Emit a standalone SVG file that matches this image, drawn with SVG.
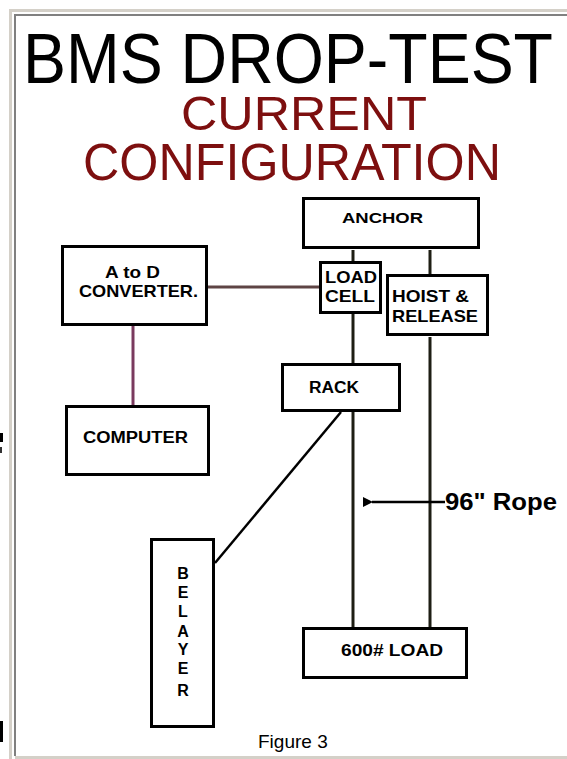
<svg xmlns="http://www.w3.org/2000/svg" width="567" height="759" viewBox="0 0 567 759">
<style>
.box{fill:#fff;stroke:#000;stroke-width:3}
.lbl{font-family:"Liberation Sans",Arial,sans-serif;font-weight:bold;fill:#000}
.wire{stroke:#1e1e14;stroke-width:3;fill:none}
.red{font-family:"Liberation Sans",Arial,sans-serif;fill:#7d0f0f}
</style>
<defs>
<marker id="ah" viewBox="0 0 10 10" refX="1" refY="5" markerWidth="4" markerHeight="4" orient="auto-start-reverse">
<path d="M0,5 L10,0 L10,10 Z" fill="#000"/>
</marker>
</defs>
<rect x="0" y="0" width="567" height="759" fill="#fff"/>
<g id="frame">
<rect x="9" y="9" width="558" height="3" fill="#d4d0c8"/>
<rect x="9" y="9" width="3" height="750" fill="#d4d0c8"/>
<rect x="15" y="756" width="552" height="3" fill="#d4d0c8"/>
<rect x="14" y="14" width="553" height="2" fill="#808080"/>
<rect x="14" y="14" width="2" height="742" fill="#808080"/>
<rect x="0" y="433" width="3" height="9" fill="#000"/>
<rect x="0" y="447" width="2" height="6" fill="#333"/>
<rect x="0" y="721" width="3" height="21" fill="#000"/>
</g>
<g id="title">
<text x="23" y="83" font-family="'Liberation Sans',Arial,sans-serif" font-size="70" textLength="530" lengthAdjust="spacingAndGlyphs" fill="#000">BMS DROP-TEST</text>
<text class="red" x="181" y="130" font-size="49" textLength="246" lengthAdjust="spacingAndGlyphs">CURRENT</text>
<text class="red" x="83" y="180" font-size="51" textLength="418" lengthAdjust="spacingAndGlyphs">CONFIGURATION</text>
</g>
<g id="connectors">
<line class="wire" x1="353" y1="250" x2="353" y2="261"/>
<line class="wire" x1="430" y1="250" x2="430" y2="274"/>
<line class="wire" x1="353" y1="314" x2="353" y2="363"/>
<line class="wire" x1="430" y1="337" x2="430" y2="627"/>
<line class="wire" x1="353" y1="412" x2="353" y2="627"/>
<line x1="341" y1="412" x2="215" y2="563" stroke="#000" stroke-width="2.5"/>
<line x1="208" y1="287" x2="319" y2="287" stroke="#5e4444" stroke-width="3"/>
<line x1="133" y1="326" x2="133" y2="405" stroke="#7a3a5e" stroke-width="3"/>
<line x1="445" y1="502" x2="372" y2="502" stroke="#000" stroke-width="2.5" marker-end="url(#ah)"/>
</g>
<g id="anchor">
<rect class="box" x="303.5" y="198.5" width="175" height="49"/>
<text class="lbl" x="342" y="223" font-size="14" textLength="81" lengthAdjust="spacingAndGlyphs">ANCHOR</text>
</g>
<g id="loadcell">
<rect class="box" x="320.5" y="262.5" width="60" height="50"/>
<text class="lbl" x="325" y="283" font-size="17" textLength="52" lengthAdjust="spacingAndGlyphs">LOAD</text>
<text class="lbl" x="325" y="302" font-size="17" textLength="50" lengthAdjust="spacingAndGlyphs">CELL</text>
</g>
<g id="hoist">
<rect class="box" x="387.5" y="275.5" width="100" height="59"/>
<text class="lbl" x="392" y="302" font-size="17" textLength="77" lengthAdjust="spacingAndGlyphs">HOIST &amp;</text>
<text class="lbl" x="392" y="322" font-size="17" textLength="86" lengthAdjust="spacingAndGlyphs">RELEASE</text>
</g>
<g id="converter">
<rect class="box" x="62.5" y="246.5" width="144" height="78"/>
<text class="lbl" x="105" y="278" font-size="17" textLength="55" lengthAdjust="spacingAndGlyphs">A to D</text>
<text class="lbl" x="79" y="297" font-size="17" textLength="119" lengthAdjust="spacingAndGlyphs">CONVERTER.</text>
</g>
<g id="computer">
<rect class="box" x="66.5" y="406.5" width="142" height="68"/>
<text class="lbl" x="83" y="443" font-size="16" textLength="105" lengthAdjust="spacingAndGlyphs">COMPUTER</text>
</g>
<g id="rack">
<rect class="box" x="282.5" y="364.5" width="117" height="46"/>
<text class="lbl" x="309" y="393" font-size="16" textLength="50" lengthAdjust="spacingAndGlyphs">RACK</text>
</g>
<g id="belayer">
<rect class="box" x="151.5" y="539.5" width="62" height="187"/>
<g class="lbl" font-size="16" text-anchor="middle">
<text x="183" y="579">B</text>
<text x="183" y="598">E</text>
<text x="183" y="617">L</text>
<text x="183" y="637">A</text>
<text x="183" y="655">Y</text>
<text x="183" y="674">E</text>
<text x="183" y="696">R</text>
</g>
</g>
<g id="load600">
<rect class="box" x="303.5" y="628.5" width="163" height="49"/>
<text class="lbl" x="341" y="656" font-size="17" textLength="102" lengthAdjust="spacingAndGlyphs">600# LOAD</text>
</g>
<g id="rope">
<text class="lbl" x="445" y="510" font-size="24" textLength="112" lengthAdjust="spacingAndGlyphs">96" Rope</text>
</g>
<text x="258" y="748" font-family="'Liberation Sans',Arial,sans-serif" font-size="19" fill="#000">Figure 3</text>
</svg>
